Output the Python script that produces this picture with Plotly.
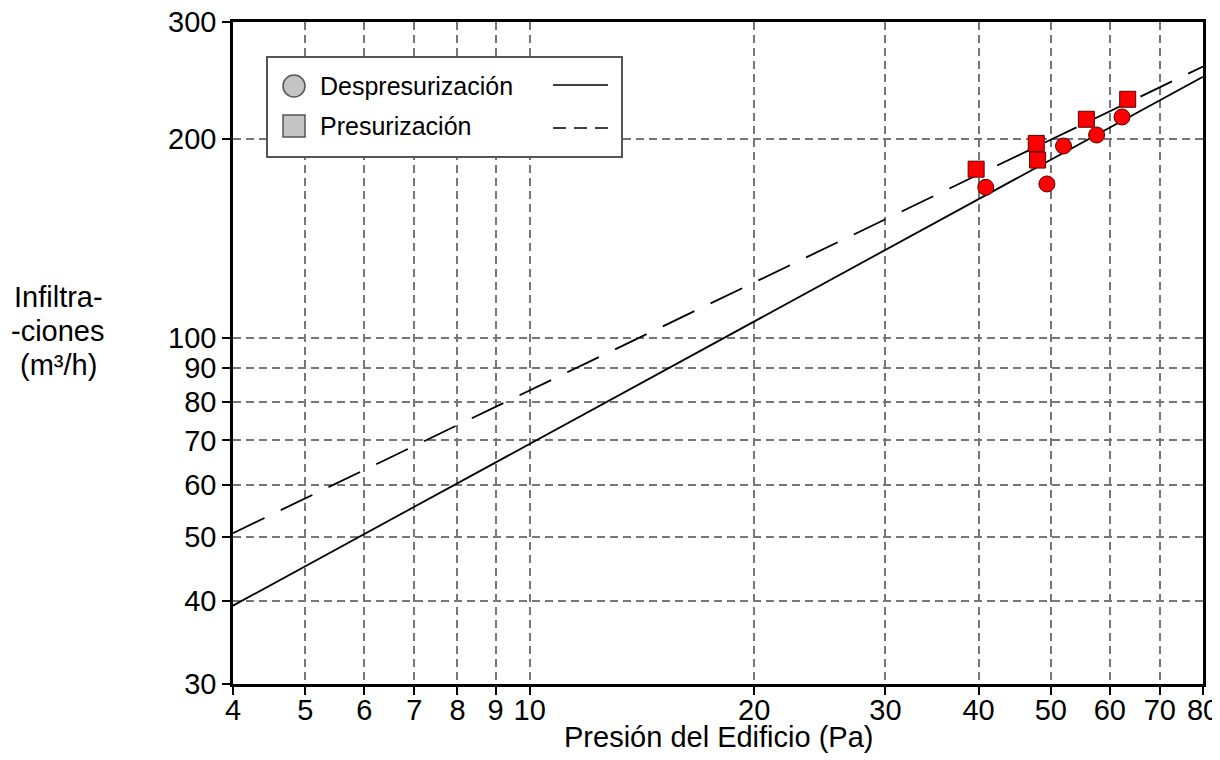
import plotly.graph_objects as go

# --- data ---
desp_pressure = [40.9, 49.4, 52.0, 57.6, 62.3]
desp_flow = [168.8, 170.8, 194.9, 202.5, 215.6]

pres_pressure = [39.7, 47.8, 48.0, 55.8, 63.4]
pres_flow = [179.8, 196.7, 185.6, 213.9, 229.3]

fit_pressure = [4, 80]
desp_fit_flow = [39.4, 248.0]
pres_fit_flow = [50.7, 257.0]

x_ticks = [4, 5, 6, 7, 8, 9, 10, 20, 30, 40, 50, 60, 70, 80]
y_ticks = [30, 40, 50, 60, 70, 80, 90, 100, 200, 300]

FONT = "Liberation Sans, Arial, sans-serif"
OFF = 8  # page body margin

fig = go.Figure()
fig.add_trace(go.Scatter(x=fit_pressure, y=desp_fit_flow, mode="lines",
                         line=dict(color="black", width=1.8), showlegend=False, hoverinfo="skip"))
fig.add_trace(go.Scatter(x=fit_pressure, y=pres_fit_flow, mode="lines",
                         line=dict(color="black", width=1.8, dash="35px,18px"), showlegend=False, hoverinfo="skip"))
fig.add_trace(go.Scatter(x=desp_pressure, y=desp_flow, mode="markers", name="Despresurización",
                         marker=dict(symbol="circle", size=16, color="#ff0000",
                                     line=dict(color="#5a0000", width=1)), showlegend=False))
fig.add_trace(go.Scatter(x=pres_pressure, y=pres_flow, mode="markers", name="Presurización",
                         marker=dict(symbol="square", size=16, color="#ff0000",
                                     line=dict(color="#5a0000", width=1)), showlegend=False))

L, R, T, B = 233, 1203, 22, 684
W, H = R - L, B - T


def px(xp):
    return (xp - L) / W


def py(yp):
    return (B - yp) / H


shapes = [
    dict(type="rect", xref="paper", yref="paper", x0=px(267), x1=px(622), y0=py(157), y1=py(57),
         fillcolor="white", line=dict(color="#555555", width=2), layer="above"),
    dict(type="circle", xref="paper", yref="paper", xsizemode="pixel", ysizemode="pixel",
         xanchor=px(294), yanchor=py(86), x0=-11, x1=11, y0=-11, y1=11,
         fillcolor="#c4c4c4", line=dict(color="#555555", width=1.5), layer="above"),
    dict(type="rect", xref="paper", yref="paper", xsizemode="pixel", ysizemode="pixel",
         xanchor=px(294), yanchor=py(126), x0=-11, x1=11, y0=-11, y1=11,
         fillcolor="#c4c4c4", line=dict(color="#555555", width=1.5), layer="above"),
    dict(type="line", xref="paper", yref="paper", x0=px(553), x1=px(608), y0=py(85), y1=py(85),
         line=dict(color="black", width=1.3), layer="above"),
    dict(type="line", xref="paper", yref="paper", x0=px(553), x1=px(608), y0=py(128), y1=py(128),
         line=dict(color="black", width=1.3, dash="13px,8px"), layer="above"),
]

annotations = [
    dict(text="Despresurización", xref="paper", yref="paper", x=px(318), y=py(86),
         xanchor="left", yanchor="middle", showarrow=False, font=dict(size=25, color="black", family=FONT)),
    dict(text="Presurización", xref="paper", yref="paper", x=px(318), y=py(126),
         xanchor="left", yanchor="middle", showarrow=False, font=dict(size=25, color="black", family=FONT)),
    dict(text="Presión del Edificio (Pa)", xref="paper", yref="paper", x=0.5, y=py(737),
         xanchor="center", yanchor="middle", showarrow=False, font=dict(size=29, color="black", family=FONT)),
]
for txt, yy in [("Infiltra-", 297), ("-ciones", 331), ("(m³/h)", 365)]:
    annotations.append(dict(text=txt, xref="paper", yref="paper", x=px(58), y=py(yy),
                            xanchor="center", yanchor="middle", showarrow=False,
                            font=dict(size=29, color="black", family=FONT)))

FW, FH = 1220, 760
fig.update_layout(
    width=FW, height=FH,
    margin=dict(l=L - OFF, r=OFF + FW - R, t=T - OFF, b=OFF + FH - B, pad=0),
    paper_bgcolor="white", plot_bgcolor="white",
    font=dict(family=FONT, size=29, color="black"),
    shapes=shapes, annotations=annotations, showlegend=False,
)
fig.update_xaxes(
    type="log", range=[0.60206, 1.90309], automargin=False,
    tickmode="array", tickvals=x_ticks, ticktext=[str(v) for v in x_ticks],
    ticks="outside", ticklen=8, tickwidth=2, tickcolor="black", ticklabeloverflow="allow",
    ticklabelstandoff=-10,
    showline=True, linecolor="black", linewidth=2.5, mirror=True,
    showgrid=True, gridcolor="#777777", gridwidth=1.8, griddash="8px,5px",
    zeroline=False, tickfont=dict(size=29),
)
fig.update_yaxes(
    type="log", range=[1.4771212, 2.4771213], automargin=False,
    tickmode="array", tickvals=y_ticks, ticktext=[str(v) for v in y_ticks],
    ticks="outside", ticklen=8, tickwidth=2, tickcolor="black", ticklabeloverflow="allow",
    showline=True, linecolor="black", linewidth=2.5, mirror=True,
    showgrid=True, gridcolor="#777777", gridwidth=1.8, griddash="8px,5px",
    zeroline=False, tickfont=dict(size=29),
)

fig.write_html("out.html")
